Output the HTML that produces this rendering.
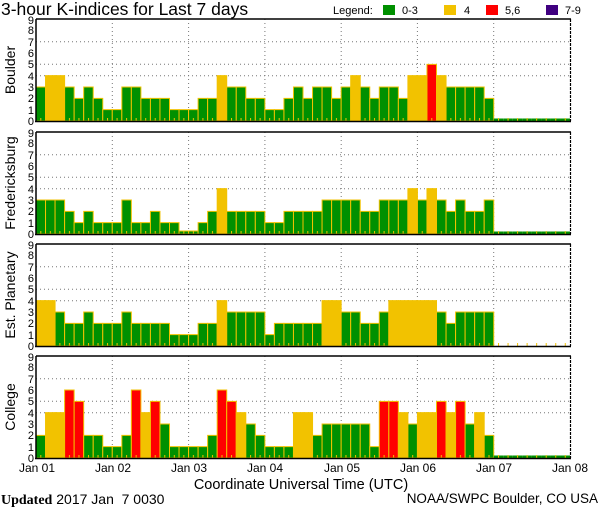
<!DOCTYPE html>
<html><head><meta charset="utf-8"><style>
body{margin:0;background:#fff}
svg{display:block}
text{font-family:"Liberation Sans","DejaVu Sans",sans-serif;fill:#000}
.bars rect{stroke:#f2c200;stroke-width:1;vector-effect:non-scaling-stroke}
.g{fill:#009000}.y{fill:#f2c200}.r{fill:#ff0000}
.grid{stroke:#777;stroke-width:1;stroke-dasharray:1 3}
.yl{font-size:11px;text-anchor:end}
.xl{font-size:12px;text-anchor:middle}
</style></head><body>
<svg width="600" height="510" viewBox="0 0 600 510" xmlns="http://www.w3.org/2000/svg">
<defs>
<g id="grid">
<line class="grid" x1="36" x2="570" y1="22.7" y2="22.7"/>
<line class="grid" x1="36" x2="570" y1="45.3" y2="45.3"/>
<line class="grid" x1="36" x2="570" y1="56.7" y2="56.7"/>
<line class="grid" x1="112.3" x2="112.3" y1="0" y2="102"/>
<line class="grid" x1="188.6" x2="188.6" y1="0" y2="102"/>
<line class="grid" x1="264.9" x2="264.9" y1="0" y2="102"/>
<line class="grid" x1="341.2" x2="341.2" y1="0" y2="102"/>
<line class="grid" x1="417.4" x2="417.4" y1="0" y2="102"/>
<line class="grid" x1="493.7" x2="493.7" y1="0" y2="102"/>
</g>
<g id="frame">
<line x1="36" x2="571" y1="0" y2="0" stroke="#000" stroke-width="1.5"/>
<line x1="35" x2="571" y1="102.5" y2="102.5" stroke="#000" stroke-width="1.5"/>
<line x1="36" x2="36" y1="0" y2="102" stroke="#000" stroke-width="1.5"/>
<line x1="570.5" x2="570.5" y1="0" y2="102" stroke="#000" stroke-width="1.2" stroke-dasharray="3 1"/>
</g>
<pattern id="tk" x="36" y="0" width="9.536" height="3" patternUnits="userSpaceOnUse"><rect x="4.3" y="0" width="1" height="3" fill="#f2c200"/></pattern>
<g id="fut">
<rect x="48" y="0" width="1" height="0.22"/><rect x="49" y="0" width="1" height="0.22"/><rect x="50" y="0" width="1" height="0.22"/><rect x="51" y="0" width="1" height="0.22"/><rect x="52" y="0" width="1" height="0.22"/><rect x="53" y="0" width="1" height="0.22"/><rect x="54" y="0" width="1" height="0.22"/><rect x="55" y="0" width="1" height="0.22"/>
</g>
</defs>

<text x="1" y="15" font-size="17.5">3-hour K-indices for Last 7 days</text>
<text x="333" y="14" font-size="11">Legend:</text>
<rect x="383" y="5" width="12" height="10" fill="#009000"/><text x="402" y="14" font-size="11">0-3</text>
<rect x="444" y="5" width="12" height="10" fill="#f2c200"/><text x="464" y="14" font-size="11">4</text>
<rect x="486" y="5" width="12" height="10" fill="#ff0000"/><text x="505" y="14" font-size="11">5,6</text>
<rect x="546" y="5" width="12" height="10" fill="#400080"/><text x="565" y="14" font-size="11">7-9</text>

<!-- Panel 1 Boulder -->
<use href="#grid" transform="translate(0,19)"/>
<g class="bars" transform="translate(36,121) scale(9.536,-11.333)">
<rect class="g" x="0" y="0" width="1" height="3"/><rect class="y" x="1" y="0" width="1" height="4"/><rect class="y" x="2" y="0" width="1" height="4"/><rect class="g" x="3" y="0" width="1" height="3"/><rect class="g" x="4" y="0" width="1" height="2"/><rect class="g" x="5" y="0" width="1" height="3"/><rect class="g" x="6" y="0" width="1" height="2"/><rect class="g" x="7" y="0" width="1" height="1"/><rect class="g" x="8" y="0" width="1" height="1"/><rect class="g" x="9" y="0" width="1" height="3"/>
<rect class="g" x="10" y="0" width="1" height="3"/><rect class="g" x="11" y="0" width="1" height="2"/><rect class="g" x="12" y="0" width="1" height="2"/><rect class="g" x="13" y="0" width="1" height="2"/><rect class="g" x="14" y="0" width="1" height="1"/><rect class="g" x="15" y="0" width="1" height="1"/><rect class="g" x="16" y="0" width="1" height="1"/><rect class="g" x="17" y="0" width="1" height="2"/><rect class="g" x="18" y="0" width="1" height="2"/><rect class="y" x="19" y="0" width="1" height="4"/>
<rect class="g" x="20" y="0" width="1" height="3"/><rect class="g" x="21" y="0" width="1" height="3"/><rect class="g" x="22" y="0" width="1" height="2"/><rect class="g" x="23" y="0" width="1" height="2"/><rect class="g" x="24" y="0" width="1" height="1"/><rect class="g" x="25" y="0" width="1" height="1"/><rect class="g" x="26" y="0" width="1" height="2"/><rect class="g" x="27" y="0" width="1" height="3"/><rect class="g" x="28" y="0" width="1" height="2"/><rect class="g" x="29" y="0" width="1" height="3"/>
<rect class="g" x="30" y="0" width="1" height="3"/><rect class="g" x="31" y="0" width="1" height="2"/><rect class="g" x="32" y="0" width="1" height="3"/><rect class="y" x="33" y="0" width="1" height="4"/><rect class="g" x="34" y="0" width="1" height="3"/><rect class="g" x="35" y="0" width="1" height="2"/><rect class="g" x="36" y="0" width="1" height="3"/><rect class="g" x="37" y="0" width="1" height="3"/><rect class="g" x="38" y="0" width="1" height="2"/><rect class="y" x="39" y="0" width="1" height="4"/>
<rect class="y" x="40" y="0" width="1" height="4"/><rect class="r" x="41" y="0" width="1" height="5"/><rect class="y" x="42" y="0" width="1" height="4"/><rect class="g" x="43" y="0" width="1" height="3"/><rect class="g" x="44" y="0" width="1" height="3"/><rect class="g" x="45" y="0" width="1" height="3"/><rect class="g" x="46" y="0" width="1" height="3"/><rect class="g" x="47" y="0" width="1" height="2"/>
<use href="#fut" fill="#009000"/>
</g>
<rect x="36" y="118" width="534" height="3" fill="url(#tk)"/>
<use href="#frame" transform="translate(0,19)"/>

<!-- Panel 2 Fredericksburg -->
<use href="#grid" transform="translate(0,132)"/>
<g class="bars" transform="translate(36,234) scale(9.536,-11.333)">
<rect class="g" x="0" y="0" width="1" height="3"/><rect class="g" x="1" y="0" width="1" height="3"/><rect class="g" x="2" y="0" width="1" height="3"/><rect class="g" x="3" y="0" width="1" height="2"/><rect class="g" x="4" y="0" width="1" height="1"/><rect class="g" x="5" y="0" width="1" height="2"/><rect class="g" x="6" y="0" width="1" height="1"/><rect class="g" x="7" y="0" width="1" height="1"/><rect class="g" x="8" y="0" width="1" height="1"/><rect class="g" x="9" y="0" width="1" height="3"/>
<rect class="g" x="10" y="0" width="1" height="1"/><rect class="g" x="11" y="0" width="1" height="1"/><rect class="g" x="12" y="0" width="1" height="2"/><rect class="g" x="13" y="0" width="1" height="1"/><rect class="g" x="14" y="0" width="1" height="1"/><rect class="g" x="15" y="0" width="1" height="0.27"/><rect class="g" x="16" y="0" width="1" height="0.27"/><rect class="g" x="17" y="0" width="1" height="1"/><rect class="g" x="18" y="0" width="1" height="2"/><rect class="y" x="19" y="0" width="1" height="4"/>
<rect class="g" x="20" y="0" width="1" height="2"/><rect class="g" x="21" y="0" width="1" height="2"/><rect class="g" x="22" y="0" width="1" height="2"/><rect class="g" x="23" y="0" width="1" height="2"/><rect class="g" x="24" y="0" width="1" height="1"/><rect class="g" x="25" y="0" width="1" height="1"/><rect class="g" x="26" y="0" width="1" height="2"/><rect class="g" x="27" y="0" width="1" height="2"/><rect class="g" x="28" y="0" width="1" height="2"/><rect class="g" x="29" y="0" width="1" height="2"/>
<rect class="g" x="30" y="0" width="1" height="3"/><rect class="g" x="31" y="0" width="1" height="3"/><rect class="g" x="32" y="0" width="1" height="3"/><rect class="g" x="33" y="0" width="1" height="3"/><rect class="g" x="34" y="0" width="1" height="2"/><rect class="g" x="35" y="0" width="1" height="2"/><rect class="g" x="36" y="0" width="1" height="3"/><rect class="g" x="37" y="0" width="1" height="3"/><rect class="g" x="38" y="0" width="1" height="3"/><rect class="y" x="39" y="0" width="1" height="4"/>
<rect class="g" x="40" y="0" width="1" height="3"/><rect class="y" x="41" y="0" width="1" height="4"/><rect class="g" x="42" y="0" width="1" height="3"/><rect class="g" x="43" y="0" width="1" height="2"/><rect class="g" x="44" y="0" width="1" height="3"/><rect class="g" x="45" y="0" width="1" height="2"/><rect class="g" x="46" y="0" width="1" height="2"/><rect class="g" x="47" y="0" width="1" height="3"/>
<use href="#fut" fill="#009000"/>
</g>
<rect x="36" y="231" width="534" height="3" fill="url(#tk)"/>
<use href="#frame" transform="translate(0,132)"/>

<!-- Panel 3 Est. Planetary -->
<use href="#grid" transform="translate(0,244)"/>
<g class="bars" transform="translate(36,346) scale(9.536,-11.333)">
<rect class="y" x="0" y="0" width="1" height="4"/><rect class="y" x="1" y="0" width="1" height="4"/><rect class="g" x="2" y="0" width="1" height="3"/><rect class="g" x="3" y="0" width="1" height="2"/><rect class="g" x="4" y="0" width="1" height="2"/><rect class="g" x="5" y="0" width="1" height="3"/><rect class="g" x="6" y="0" width="1" height="2"/><rect class="g" x="7" y="0" width="1" height="2"/><rect class="g" x="8" y="0" width="1" height="2"/><rect class="g" x="9" y="0" width="1" height="3"/>
<rect class="g" x="10" y="0" width="1" height="2"/><rect class="g" x="11" y="0" width="1" height="2"/><rect class="g" x="12" y="0" width="1" height="2"/><rect class="g" x="13" y="0" width="1" height="2"/><rect class="g" x="14" y="0" width="1" height="1"/><rect class="g" x="15" y="0" width="1" height="1"/><rect class="g" x="16" y="0" width="1" height="1"/><rect class="g" x="17" y="0" width="1" height="2"/><rect class="g" x="18" y="0" width="1" height="2"/><rect class="y" x="19" y="0" width="1" height="4"/>
<rect class="g" x="20" y="0" width="1" height="3"/><rect class="g" x="21" y="0" width="1" height="3"/><rect class="g" x="22" y="0" width="1" height="3"/><rect class="g" x="23" y="0" width="1" height="3"/><rect class="g" x="24" y="0" width="1" height="1"/><rect class="g" x="25" y="0" width="1" height="2"/><rect class="g" x="26" y="0" width="1" height="2"/><rect class="g" x="27" y="0" width="1" height="2"/><rect class="g" x="28" y="0" width="1" height="2"/><rect class="g" x="29" y="0" width="1" height="2"/>
<rect class="y" x="30" y="0" width="1" height="4"/><rect class="y" x="31" y="0" width="1" height="4"/><rect class="g" x="32" y="0" width="1" height="3"/><rect class="g" x="33" y="0" width="1" height="3"/><rect class="g" x="34" y="0" width="1" height="2"/><rect class="g" x="35" y="0" width="1" height="2"/><rect class="g" x="36" y="0" width="1" height="3"/><rect class="y" x="37" y="0" width="1" height="4"/><rect class="y" x="38" y="0" width="1" height="4"/><rect class="y" x="39" y="0" width="1" height="4"/>
<rect class="y" x="40" y="0" width="1" height="4"/><rect class="y" x="41" y="0" width="1" height="4"/><rect class="g" x="42" y="0" width="1" height="3"/><rect class="g" x="43" y="0" width="1" height="2"/><rect class="g" x="44" y="0" width="1" height="3"/><rect class="g" x="45" y="0" width="1" height="3"/><rect class="g" x="46" y="0" width="1" height="3"/><rect class="g" x="47" y="0" width="1" height="3"/>
</g>
<rect x="36" y="343" width="534" height="3" fill="url(#tk)"/>
<use href="#frame" transform="translate(0,244)"/>

<!-- Panel 4 College -->
<use href="#grid" transform="translate(0,356)"/>
<g class="bars" transform="translate(36,458) scale(9.536,-11.333)">
<rect class="g" x="0" y="0" width="1" height="2"/><rect class="y" x="1" y="0" width="1" height="4"/><rect class="y" x="2" y="0" width="1" height="4"/><rect class="r" x="3" y="0" width="1" height="6"/><rect class="r" x="4" y="0" width="1" height="5"/><rect class="g" x="5" y="0" width="1" height="2"/><rect class="g" x="6" y="0" width="1" height="2"/><rect class="g" x="7" y="0" width="1" height="1"/><rect class="g" x="8" y="0" width="1" height="1"/><rect class="g" x="9" y="0" width="1" height="2"/>
<rect class="r" x="10" y="0" width="1" height="6"/><rect class="y" x="11" y="0" width="1" height="4"/><rect class="r" x="12" y="0" width="1" height="5"/><rect class="g" x="13" y="0" width="1" height="3"/><rect class="g" x="14" y="0" width="1" height="1"/><rect class="g" x="15" y="0" width="1" height="1"/><rect class="g" x="16" y="0" width="1" height="1"/><rect class="g" x="17" y="0" width="1" height="1"/><rect class="g" x="18" y="0" width="1" height="2"/><rect class="r" x="19" y="0" width="1" height="6"/>
<rect class="r" x="20" y="0" width="1" height="5"/><rect class="y" x="21" y="0" width="1" height="4"/><rect class="g" x="22" y="0" width="1" height="3"/><rect class="g" x="23" y="0" width="1" height="2"/><rect class="g" x="24" y="0" width="1" height="1"/><rect class="g" x="25" y="0" width="1" height="1"/><rect class="g" x="26" y="0" width="1" height="1"/><rect class="y" x="27" y="0" width="1" height="4"/><rect class="y" x="28" y="0" width="1" height="4"/><rect class="g" x="29" y="0" width="1" height="2"/>
<rect class="g" x="30" y="0" width="1" height="3"/><rect class="g" x="31" y="0" width="1" height="3"/><rect class="g" x="32" y="0" width="1" height="3"/><rect class="g" x="33" y="0" width="1" height="3"/><rect class="g" x="34" y="0" width="1" height="3"/><rect class="g" x="35" y="0" width="1" height="1"/><rect class="r" x="36" y="0" width="1" height="5"/><rect class="r" x="37" y="0" width="1" height="5"/><rect class="y" x="38" y="0" width="1" height="4"/><rect class="g" x="39" y="0" width="1" height="3"/>
<rect class="y" x="40" y="0" width="1" height="4"/><rect class="y" x="41" y="0" width="1" height="4"/><rect class="r" x="42" y="0" width="1" height="5"/><rect class="y" x="43" y="0" width="1" height="4"/><rect class="r" x="44" y="0" width="1" height="5"/><rect class="g" x="45" y="0" width="1" height="3"/><rect class="y" x="46" y="0" width="1" height="4"/><rect class="g" x="47" y="0" width="1" height="2"/>
<use href="#fut" fill="#009000"/>
</g>
<rect x="36" y="455" width="534" height="3" fill="url(#tk)"/>
<use href="#frame" transform="translate(0,356)"/>

<!-- y labels -->
<g class="yl">
<text x="34" y="125">0</text><text x="34" y="114">1</text><text x="34" y="102">2</text><text x="34" y="91">3</text><text x="34" y="80">4</text><text x="34" y="68">5</text><text x="34" y="57">6</text><text x="34" y="46">7</text><text x="34" y="34">8</text><text x="34" y="24">9</text>
<text x="34" y="238">0</text><text x="34" y="227">1</text><text x="34" y="215">2</text><text x="34" y="204">3</text><text x="34" y="193">4</text><text x="34" y="181">5</text><text x="34" y="170">6</text><text x="34" y="159">7</text><text x="34" y="147">8</text><text x="34" y="137">9</text>
<text x="34" y="350">0</text><text x="34" y="339">1</text><text x="34" y="327">2</text><text x="34" y="316">3</text><text x="34" y="305">4</text><text x="34" y="293">5</text><text x="34" y="282">6</text><text x="34" y="271">7</text><text x="34" y="259">8</text><text x="34" y="249">9</text>
<text x="34" y="462">0</text><text x="34" y="451">1</text><text x="34" y="439">2</text><text x="34" y="428">3</text><text x="34" y="417">4</text><text x="34" y="405">5</text><text x="34" y="394">6</text><text x="34" y="383">7</text><text x="34" y="371">8</text><text x="34" y="361">9</text>
</g>
<g font-size="14" text-anchor="middle">
<text transform="translate(15,70) rotate(-90)">Boulder</text>
<text transform="translate(15,183) rotate(-90)">Fredericksburg</text>
<text transform="translate(15,295) rotate(-90)">Est. Planetary</text>
<text transform="translate(15,407) rotate(-90)">College</text>
</g>
<g class="xl">
<text x="37" y="472">Jan 01</text><text x="113" y="472">Jan 02</text><text x="189" y="472">Jan 03</text><text x="265" y="472">Jan 04</text><text x="342" y="472">Jan 05</text><text x="418" y="472">Jan 06</text><text x="494" y="472">Jan 07</text><text x="570" y="472">Jan 08</text>
</g>
<text x="301" y="489" font-size="14.5" text-anchor="middle">Coordinate Universal Time (UTC)</text>
<text x="1" y="504" font-size="14" xml:space="preserve"><tspan font-family="Liberation Serif" font-weight="bold">Updated</tspan> 2017 Jan  7 0030</text>
<text x="598" y="503" font-size="13.5" text-anchor="end">NOAA/SWPC Boulder, CO USA</text>
</svg>
</body></html>
